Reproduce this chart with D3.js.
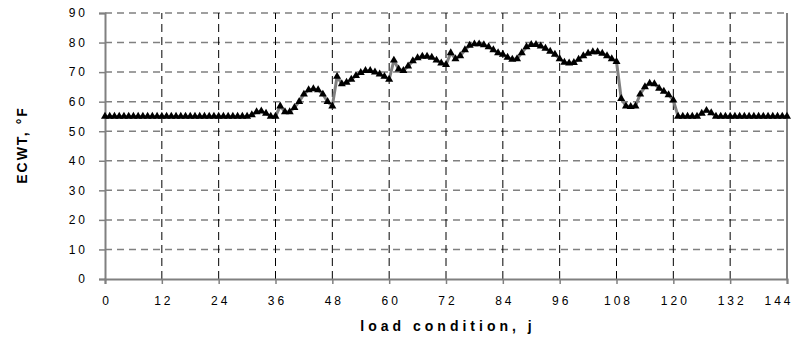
<!DOCTYPE html>
<html lang="en">
	<head>
		<meta charset="utf-8">
		<title>ECWT vs load condition</title>
		<style>
			body { margin: 0; background: #fff; }
			.chart text { font-family: "Liberation Sans", Arial, sans-serif; fill: #000; }
			.tick text { font-size: 12px; letter-spacing: 3px; }
			.axis-title { font-size: 14px; font-weight: bold; }
		</style>
	</head>
	<body>
		<svg class="chart"></svg>

		<script src="https://d3js.org/d3.v7.min.js"></script>
		<script type="text/javascript">

			// ECWT per load condition j = 0..144
			var ecwt = [
				55, 55, 55, 55, 55, 55, 55, 55, 55, 55,
				55, 55, 55, 55, 55, 55, 55, 55, 55, 55,
				55, 55, 55, 55, 55, 55, 55, 55, 55, 55,
				55, 55.5, 56.5, 56.8, 56, 55, 55,
				58.5, 56.5, 56.5, 58, 60, 62.5, 64, 64.3, 64, 62.5, 60, 58.5,
				68.5, 66, 66.5, 67.5, 68.8, 69.8, 70.5, 70.5, 70, 69.3, 68.5, 67.5,
				74, 71, 70.5, 72, 73.8, 74.8, 75.3, 75.3, 75, 74, 73, 72.5,
				76.5, 74.5, 75.5, 77.5, 79, 79.5, 79.5, 79.2, 78.5, 77.5, 76.5, 76, 75, 74.3,
				74.5, 76.5, 78.5, 79.3, 79.3, 78.8, 78, 77, 76, 74.5, 73.3, 73, 73.2,
				74.3, 75.5, 76.3, 76.8, 76.8, 76.3, 75.5, 74.5, 73.5,
				61, 58.5, 58.3, 58.5, 62.5, 65, 66.2, 66, 64.5, 63.5, 62.3, 60.5,
				55, 55, 55, 55, 55, 56, 57, 56.2,
				55, 55, 55, 55, 55, 55, 55, 55, 55, 55, 55, 55, 55, 55, 55, 55
			];
			var xTicks = [0, 12, 24, 36, 48, 60, 72, 84, 96, 108, 120, 132, 144];
			var yTicks = [0, 10, 20, 30, 40, 50, 60, 70, 80, 90];

			var width = 801, height = 337;
			var margin = { top: 13, right: 14, bottom: 58, left: 105 };

			var svg = d3.select(".chart")
				.attr("width", width)
				.attr("height", height);

			var x = d3.scaleLinear()
				.domain([0, 144])
				.range([margin.left, width - margin.right]);

			var y = d3.scaleLinear()
				.domain([0, 90])
				.range([height - margin.bottom, margin.top]);

			// horizontal grid (gray dashes)
			svg.append("g")
				.selectAll("line")
				.data(yTicks.slice(1))
				.enter().append("line")
					.attr("x1", x(0)).attr("x2", x(144))
					.attr("y1", y).attr("y2", y)
					.attr("stroke", "#808080")
					.attr("stroke-width", 1.5)
					.attr("stroke-dasharray", "7,5");

			// vertical grid (black dashes)
			svg.append("g")
				.selectAll("line")
				.data(xTicks.slice(1, -1))
				.enter().append("line")
					.attr("x1", x).attr("x2", x)
					.attr("y1", y(0)).attr("y2", y(90))
					.attr("stroke", "#000")
					.attr("stroke-width", 1)
					.attr("stroke-dasharray", "8,5");

			// right border
			svg.append("line")
				.attr("x1", x(144)).attr("x2", x(144))
				.attr("y1", y(0)).attr("y2", y(90))
				.attr("stroke", "#808080")
				.attr("stroke-width", 2);

			// axes
			var xAxis = svg.append("g")
				.attr("transform", "translate(0," + y(0) + ")")
				.call(d3.axisBottom(x).tickValues(xTicks).tickSize(5).tickPadding(12));

			var yAxis = svg.append("g")
				.attr("transform", "translate(" + x(0) + ",0)")
				.call(d3.axisLeft(y).tickValues(yTicks).tickSize(6).tickPadding(11));

			[xAxis, yAxis].forEach(function(a) {
				a.attr("font-size", null).attr("font-family", null);
				a.select(".domain").attr("stroke", "#808080").attr("stroke-width", 2);
				a.selectAll(".tick line").attr("stroke", "#808080").attr("stroke-width", 1.5);
			});
			// letter-spacing leaves a trailing gap; nudge centred labels right
			xAxis.selectAll(".tick text").attr("dx", "1.5");
			// last label is pulled inside the frame, as in the original
			xAxis.selectAll(".tick text")
				.filter(function(d) { return d === 144; })
				.attr("text-anchor", "end")
				.attr("dx", "6");

			// the series line
			var line = d3.line()
				.x(function(d, i) { return x(i); })
				.y(function(d) { return y(d); });

			svg.append("path")
				.datum(ecwt)
				.attr("fill", "none")
				.attr("stroke", "#808080")
				.attr("stroke-width", 3)
				.attr("d", line);

			// triangle markers
			var tri = d3.symbol().type(d3.symbolTriangle).size(28);
			svg.append("g")
				.selectAll("path")
				.data(ecwt)
				.enter().append("path")
					.attr("d", tri)
					.attr("transform", function(d, i) { return "translate(" + x(i) + "," + y(d) + ")"; })
					.attr("fill", "#000");

			// axis titles
			svg.append("text")
				.attr("class", "axis-title")
				.attr("x", (x(0) + x(144)) / 2 + 2)
				.attr("y", 331)
				.attr("text-anchor", "middle")
				.style("letter-spacing", "4px")
				.text("load condition, j");

			svg.append("text")
				.attr("class", "axis-title")
				.attr("transform", "translate(27,145) rotate(-90)")
				.attr("text-anchor", "middle")
				.style("letter-spacing", "2px")
				.text("ECWT, °F");

		</script>
	</body>
</html>
